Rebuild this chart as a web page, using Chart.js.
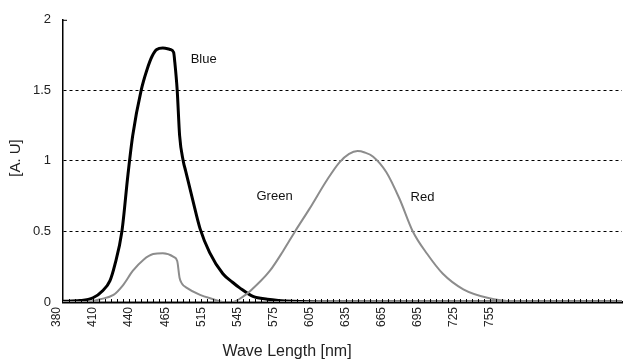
<!DOCTYPE html>
<html>
<head>
<meta charset="utf-8">
<script src="https://cdn.jsdelivr.net/npm/chart.js@4/dist/chart.umd.min.js"></script>
<style>
  html, body { margin: 0; padding: 0; background: #fff; }
  #wrap { width: 624px; height: 361px; position: relative; }
</style>
</head>
<body>
<div id="wrap"><canvas id="specChart"></canvas></div>
<script>
// x tick labels (evenly spaced on the axis, 30 units apart)
var xTickLabels = ["380", "410", "440", "465", "515", "545", "575", "605", "635", "665", "695", "725", "755"];
var yTickValues = [0, 0.5, 1, 1.5, 2];

// Blue (thick black curve)
var blueX = [380, 394, 405, 413, 419, 423, 429, 434, 438, 445, 450, 454, 458, 463, 469, 472, 473, 475, 477, 480, 482, 488, 494, 502, 513, 521, 527, 538, 550, 571, 602, 845];
var blueY = [0.005, 0.01, 0.03, 0.08, 0.15, 0.26, 0.5, 0.9, 1.18, 1.5, 1.65, 1.74, 1.79, 1.8, 1.79, 1.77, 1.7, 1.5, 1.18, 1.0, 0.93, 0.72, 0.52, 0.35, 0.2, 0.14, 0.1, 0.04, 0.02, 0.005, 0, 0];

// Green (small grey curve)
var greenX = [380, 400, 411, 422, 430, 438, 447, 455, 463, 472, 475, 477, 479, 483, 494, 505, 513, 845];
var greenY = [0, 0, 0.02, 0.05, 0.12, 0.22, 0.3, 0.34, 0.345, 0.32, 0.29, 0.17, 0.13, 0.1, 0.05, 0.02, 0, 0];

// Red (large grey curve)
var redX = [380, 521, 530, 536, 552, 563, 573, 585, 600, 610, 618, 625, 631, 638, 649, 660, 671, 683, 696, 713, 733, 754, 845];
var redY = [0, 0, 0.04, 0.08, 0.22, 0.36, 0.5, 0.66, 0.87, 0.99, 1.05, 1.07, 1.06, 1.03, 0.92, 0.73, 0.5, 0.34, 0.2, 0.09, 0.03, 0.005, 0];

// curve names written inside the plot
var curveNames = ["Blue", "Green", "Red"];
var nameX = [497, 556, 679];
var nameY = [1.72, 0.75, 0.74];

function toPoints(xs, ys) {
    var pts = [];
    for (var i = 0; i < xs.length; i++) {
        pts.push({ x: xs[i], y: ys[i] });
    }
    return pts;
}

var FONT = "'Liberation Sans', Arial, sans-serif";

// 文字和小刻度
var extrasPlugin = {
    id: "extras",
    afterDraw: function (chart) {
        var ctx = chart.ctx;
        var xs = chart.scales.x;
        var ys = chart.scales.y;
        var area = chart.chartArea;
        ctx.save();
        // minor ticks on the x axis
        ctx.strokeStyle = "#000";
        ctx.lineWidth = 1;
        for (var v = 385; v < xs.max; v += 5) {
            var px = Math.round(xs.getPixelForValue(v)) + 0.5;
            ctx.beginPath();
            ctx.moveTo(px, area.bottom);
            ctx.lineTo(px, area.bottom - 3);
            ctx.stroke();
        }
        // small mark at the top of the y axis
        ctx.beginPath();
        ctx.moveTo(area.left, area.top + 0.5);
        ctx.lineTo(area.left + 4, area.top + 0.5);
        ctx.stroke();
        // curve names
        ctx.fillStyle = "#111";
        ctx.font = "13px " + FONT;
        ctx.textAlign = "center";
        ctx.textBaseline = "middle";
        for (var i = 0; i < curveNames.length; i++) {
            ctx.fillText(curveNames[i], xs.getPixelForValue(nameX[i]), ys.getPixelForValue(nameY[i]));
        }
        // axis titles
        ctx.font = "16px " + FONT;
        ctx.fillStyle = "#222";
        ctx.fillText("Wave Length [nm]", 287, 352);
        ctx.translate(16, 158);
        ctx.rotate(-Math.PI / 2);
        ctx.font = "15px " + FONT;
        ctx.fillText("[A. U]", 0, 0);
        ctx.restore();
    }
};

function initChart() {
    var canvas = document.getElementById("specChart");
    var chartData = {
        datasets: [
            {
                label: "Green",
                data: toPoints(greenX, greenY),
                borderColor: "#8c8c8c",
                borderWidth: 2,
                pointRadius: 0,
                tension: 0.4,
                cubicInterpolationMode: "monotone"
            },
            {
                label: "Red",
                data: toPoints(redX, redY),
                borderColor: "#8c8c8c",
                borderWidth: 2,
                pointRadius: 0,
                tension: 0.4,
                cubicInterpolationMode: "monotone"
            },
            {
                label: "Blue",
                data: toPoints(blueX, blueY),
                borderColor: "#000",
                borderWidth: 3,
                pointRadius: 0,
                tension: 0.4,
                cubicInterpolationMode: "monotone"
            }
        ]
    };
    var chartOptions = {
        responsive: true,
        maintainAspectRatio: false,
        animation: false,
        layout: { padding: { top: 17, right: 2, left: 0, bottom: 0 } },
        plugins: {
            legend: { display: false },
            tooltip: { enabled: false }
        },
        scales: {
            x: {
                type: "linear",
                min: 380,
                max: 845,
                afterBuildTicks: function (scale) {
                    scale.ticks = xTickLabels.map(function (l, i) { return { value: 380 + 30 * i }; });
                },
                afterFit: function (scale) { scale.height = 59; },
                grid: { display: false, drawTicks: false },
                border: { display: true, color: "#000", width: 2.5 },
                ticks: {
                    autoSkip: false,
                    minRotation: 90,
                    maxRotation: 90,
                    padding: 5,
                    labelOffset: -6,
                    color: "#222",
                    font: { family: FONT, size: 12 },
                    callback: function (value) {
                        var idx = Math.round((value - 380) / 30);
                        return xTickLabels[idx] || "";
                    }
                }
            },
            y: {
                min: 0,
                max: 2,
                afterBuildTicks: function (scale) {
                    scale.ticks = yTickValues.map(function (v) { return { value: v }; });
                },
                afterFit: function (scale) { scale.width = 63; },
                grid: {
                    drawTicks: false,
                    lineWidth: 1,
                    color: function (ctx) {
                        var v = ctx.tick ? ctx.tick.value : 0;
                        return (v === 0 || v === 2) ? "rgba(0,0,0,0)" : "#000";
                    }
                },
                border: { display: true, color: "#000", width: 1.5, dash: [3, 3] },
                ticks: {
                    padding: 12,
                    color: "#222",
                    font: { family: FONT, size: 13 },
                    callback: function (value) { return String(value); }
                }
            }
        }
    };
    new Chart(canvas, { type: "line", data: chartData, options: chartOptions, plugins: [extrasPlugin] });
}

initChart();
</script>
</body>
</html>
